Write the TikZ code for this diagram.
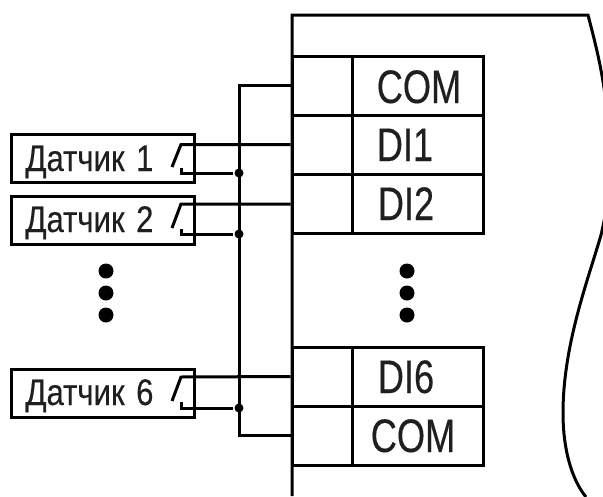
\documentclass[tikz,border=0pt]{standalone}
\usepackage{fontspec}
\newfontfamily\sensorfont[FakeStretch=0.84,FakeBold=0.3]{Liberation Sans}
\newfontfamily\termfont[FakeStretch=0.77,FakeBold=0.3]{Liberation Sans}
\usepackage{tikz}
\usetikzlibrary{positioning}

\begin{document}
\begin{tikzpicture}[x=1pt, y=-1pt, line width=3pt, line join=miter,
    sensorbox/.style={rectangle,draw,inner sep=0pt,minimum width=183pt,minimum height=48pt},
    sensortext/.style={anchor=base west,inner sep=0pt,text=black!88,font=\sensorfont\fontsize{37}{40}\selectfont},
    leftcell/.style={rectangle,draw,inner sep=0pt,minimum width=60pt,minimum height=59pt},
    rightcell/.style={rectangle,draw,inner sep=0pt,minimum width=131pt,minimum height=59pt},
    termtext/.style={anchor=base,inner sep=0pt,text=black!88,font=\termfont\fontsize{47}{50}\selectfont},
    bigdot/.style={circle,fill=black,inner sep=0pt,minimum size=15pt},
    joint/.style={circle,fill=black,inner sep=0pt,minimum size=9pt}]
  \useasboundingbox (0,0) rectangle (603,496);

  \draw (292,496) -- (292,15) -- (588,15) .. controls (595,42) and (601,65) .. (605,95)
      .. controls (612,140) and (612,190) .. (601,235) .. controls (588,280) and (563,345) .. (563,413)
      .. controls (563,450) and (572,480) .. (586,497);

  \node[leftcell] (cellcomtop) at (322,85.5) {};
  \node[rightcell] (termcomtop) at (417.5,85.5) {};
  \node[leftcell] (cellone) at (322,144.5) {};
  \node[rightcell] (termone) at (417.5,144.5) {};
  \node[leftcell] (celltwo) at (322,204) {};
  \node[rightcell] (termtwo) at (417.5,204) {};
  \node[leftcell] (cellsix) at (322,376.5) {};
  \node[rightcell] (termsix) at (417.5,376.5) {};
  \node[leftcell] (cellcombot) at (322,435.5) {};
  \node[rightcell] (termcombot) at (417.5,435.5) {};

  \node[termtext] (labcomtop) at (419,103) {COM};
  \node[termtext] (labone) at (405,161) {DI1};
  \node[termtext] (labtwo) at (406,220) {DI2};
  \node[termtext] (labsix) at (406,393) {DI6};
  \node[termtext] (labcombot) at (413,452) {COM};

  \node[sensorbox] (sensone) at (102.5,158) {};
  \node[sensorbox] (senstwo) at (102.5,220) {};
  \node[sensorbox] (senssix) at (102.5,393) {};
  \node[sensortext] (labsensone) at (24,171) {Датчик\hspace{3pt} 1};
  \node[sensortext] (labsenstwo) at (24,232) {Датчик\hspace{3pt} 2};
  \node[sensortext] (labsenssix) at (24,405) {Датчик\hspace{3pt} 6};

  \coordinate (swone) at (181,144.5);
  \coordinate (swtwo) at (181,204);
  \coordinate (swsix) at (181,377);
  \coordinate (bladeone) at (172,167);
  \coordinate (bladetwo) at (172,228);
  \coordinate (bladesix) at (172,401);
  \coordinate (stopone) at (181,168);
  \coordinate (stoptwo) at (181,229);
  \coordinate (stopsix) at (181,402);
  \coordinate (lowone) at (181,173);
  \coordinate (lowtwo) at (181,234);
  \coordinate (lowsix) at (181,408);

  \node[joint] (jointone) at (239,173) {};
  \node[joint] (jointtwo) at (239,234) {};
  \node[joint] (jointsix) at (239,408) {};
  \coordinate (bustop) at (239,85.5);
  \coordinate (busbot) at (239,435.5);

  \draw (cellcomtop.west) -- (bustop) -- (busbot) -- (cellcombot.west);
  \draw (bladeone) -- (swone) -- (cellone.west);
  \draw (bladetwo) -- (swtwo) -- (celltwo.west);
  \draw (bladesix) -- (swsix) -- (cellsix.west);
  \draw (stopone) -- (lowone) -- (jointone);
  \draw (stoptwo) -- (lowtwo) -- (jointtwo);
  \draw (stopsix) -- (lowsix) -- (jointsix);

  \node[bigdot] (dotleftA) at (106,271) {};
  \node[bigdot] (dotleftB) at (106,293) {};
  \node[bigdot] (dotleftC) at (106,315) {};
  \node[bigdot] (dotrightA) at (407,271) {};
  \node[bigdot] (dotrightB) at (407,293) {};
  \node[bigdot] (dotrightC) at (407,315) {};
\end{tikzpicture}
\end{document}
